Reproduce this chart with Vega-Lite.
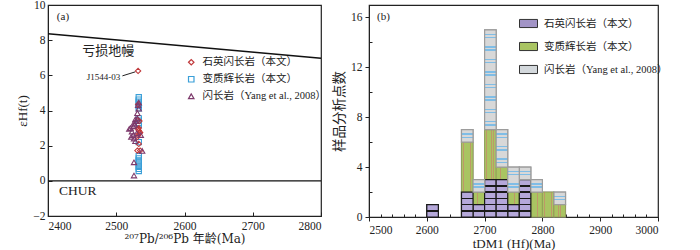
{
  "$schema": "https://vega.github.io/schema/vega-lite/v6.json",
  "background": "white",
  "padding": {"left": 16, "top": -2, "right": 0, "bottom": 0},
  "autosize": {"type": "pad"},
  "spacing": 48,
  "bounds": "flush",
  "config": {
    "view": {"stroke": "#222", "strokeWidth": 1.2},
    "axis": {
      "labelFont": "Liberation Serif", "labelFontSize": 11.5, "labelColor": "#222",
      "titleFont": "Liberation Serif, Noto Sans CJK SC", "titleFontSize": 13, "titleFontWeight": "normal", "titleColor": "#222",
      "domainColor": "#222", "tickColor": "#222", "grid": false, "format": "d"
    },
    "legend": {
      "labelFont": "Liberation Serif, Noto Sans CJK SC", "labelFontSize": 10.5, "labelColor": "#222",
      "padding": 0, "rowPadding": 6, "labelOffset": 6
    }
  },
  "resolve": {
    "scale": {"color": "independent", "shape": "independent", "stroke": "independent", "fill": "independent", "x": "independent", "y": "independent"},
    "legend": {"color": "independent", "shape": "independent", "stroke": "independent", "fill": "independent"}
  },
  "hconcat": [
    {
      "width": 273,
      "height": 211,
      "encoding": {
        "x": {"type": "quantitative", "scale": {"domain": [2400, 2800], "nice": false, "zero": false},
              "axis": {"values": [2400, 2500, 2600, 2700, 2800], "tickSize": -4, "labelPadding": 8, "title": "²⁰⁷Pb/²⁰⁶Pb 年龄(Ma)", "titleFont": "DejaVu Serif, Noto Sans CJK SC", "titleFontSize": 12, "titlePadding": 2}},
        "y": {"type": "quantitative", "scale": {"domain": [-2, 10], "nice": false, "zero": false},
              "axis": {"values": [-2, 0, 2, 4, 6, 8, 10], "tickSize": -4, "labelPadding": 7, "title": "εHf(t)", "titlePadding": 3}}
      },
      "layer": [
        {
          "data": {"values": [{"age": 2400, "eps": 8.37}, {"age": 2800, "eps": 6.97}]},
          "mark": {"type": "line", "color": "#111", "strokeWidth": 1.5},
          "encoding": {"x": {"field": "age"}, "y": {"field": "eps"}}
        },
        {
          "data": {"values": [{"eps": 0}]},
          "mark": {"type": "rule", "color": "#111", "strokeWidth": 1.3},
          "encoding": {"y": {"field": "eps"}}
        },
        {
          "data": {"values": [{"age": 2450, "eps": 7.4, "label": "亏损地幔"}]},
          "mark": {"type": "text", "align": "left", "baseline": "middle", "font": "Noto Sans CJK SC", "fontSize": 13, "color": "#222"},
          "encoding": {"x": {"field": "age"}, "y": {"field": "eps"}, "text": {"field": "label"}}
        },
        {
          "data": {"values": [{"age": 2416, "eps": -0.6, "label": "CHUR"}]},
          "mark": {"type": "text", "align": "left", "baseline": "middle", "font": "Liberation Serif", "fontSize": 13.5, "color": "#222"},
          "encoding": {"x": {"field": "age"}, "y": {"field": "eps"}, "text": {"field": "label"}}
        },
        {
          "data": {"values": [{"age": 2413, "eps": 9.3, "label": "(a)"}]},
          "mark": {"type": "text", "align": "left", "baseline": "middle", "font": "Liberation Serif", "fontSize": 11, "color": "#222"},
          "encoding": {"x": {"field": "age"}, "y": {"field": "eps"}, "text": {"field": "label"}}
        },
        {
          "data": {"values": [{"age": 2506, "eps": 5.9, "label": "J1544-03"}]},
          "mark": {"type": "text", "align": "right", "baseline": "middle", "font": "Liberation Serif", "fontSize": 9, "color": "#222"},
          "encoding": {"x": {"field": "age"}, "y": {"field": "eps"}, "text": {"field": "label"}}
        },
        {
          "data": {"values": [{"age": 2509, "eps": 5.97, "age2": 2528, "eps2": 6.2}]},
          "mark": {"type": "rule", "color": "#222", "strokeWidth": 1},
          "encoding": {"x": {"field": "age"}, "y": {"field": "eps"}, "x2": {"field": "age2"}, "y2": {"field": "eps2"}}
        },
        {
          "data": {"values": [
            {"rock": "变质辉长岩（本文）", "age": 2533, "eps": 4.75},
            {"rock": "变质辉长岩（本文）", "age": 2533, "eps": 4.62},
            {"rock": "变质辉长岩（本文）", "age": 2533, "eps": 4.5},
            {"rock": "变质辉长岩（本文）", "age": 2533, "eps": 4.38},
            {"rock": "变质辉长岩（本文）", "age": 2533, "eps": 4.25},
            {"rock": "变质辉长岩（本文）", "age": 2533, "eps": 4.12},
            {"rock": "变质辉长岩（本文）", "age": 2533, "eps": 3.55},
            {"rock": "变质辉长岩（本文）", "age": 2533, "eps": 3.42},
            {"rock": "变质辉长岩（本文）", "age": 2533, "eps": 3.3},
            {"rock": "变质辉长岩（本文）", "age": 2533, "eps": 3.18},
            {"rock": "变质辉长岩（本文）", "age": 2533, "eps": 2.2},
            {"rock": "变质辉长岩（本文）", "age": 2533, "eps": 1.4},
            {"rock": "变质辉长岩（本文）", "age": 2533, "eps": 1.28},
            {"rock": "变质辉长岩（本文）", "age": 2533, "eps": 1.16},
            {"rock": "变质辉长岩（本文）", "age": 2533, "eps": 1.04},
            {"rock": "变质辉长岩（本文）", "age": 2533, "eps": 0.92},
            {"rock": "变质辉长岩（本文）", "age": 2533, "eps": 0.8},
            {"rock": "变质辉长岩（本文）", "age": 2533, "eps": 0.68},
            {"rock": "变质辉长岩（本文）", "age": 2533, "eps": 0.56},
            {"rock": "石英闪长岩（本文）", "age": 2532, "eps": 6.25},
            {"rock": "石英闪长岩（本文）", "age": 2532, "eps": 4.35},
            {"rock": "石英闪长岩（本文）", "age": 2532, "eps": 3.45},
            {"rock": "石英闪长岩（本文）", "age": 2534, "eps": 3.4},
            {"rock": "石英闪长岩（本文）", "age": 2533, "eps": 3.0},
            {"rock": "石英闪长岩（本文）", "age": 2532, "eps": 2.95},
            {"rock": "石英闪长岩（本文）", "age": 2533, "eps": 2.85},
            {"rock": "石英闪长岩（本文）", "age": 2535, "eps": 2.75},
            {"rock": "石英闪长岩（本文）", "age": 2534, "eps": 2.7},
            {"rock": "石英闪长岩（本文）", "age": 2532, "eps": 2.6},
            {"rock": "石英闪长岩（本文）", "age": 2531, "eps": 2.5},
            {"rock": "石英闪长岩（本文）", "age": 2533, "eps": 2.1},
            {"rock": "石英闪长岩（本文）", "age": 2531, "eps": 1.72},
            {"rock": "石英闪长岩（本文）", "age": 2535, "eps": 1.72},
            {"rock": "闪长岩（Yang et al., 2008）", "age": 2533, "eps": 4.45},
            {"rock": "闪长岩（Yang et al., 2008）", "age": 2532, "eps": 4.3},
            {"rock": "闪长岩（Yang et al., 2008）", "age": 2533, "eps": 4.1},
            {"rock": "闪长岩（Yang et al., 2008）", "age": 2531, "eps": 3.85},
            {"rock": "闪长岩（Yang et al., 2008）", "age": 2531, "eps": 3.55},
            {"rock": "闪长岩（Yang et al., 2008）", "age": 2528, "eps": 3.5},
            {"rock": "闪长岩（Yang et al., 2008）", "age": 2529, "eps": 3.4},
            {"rock": "闪长岩（Yang et al., 2008）", "age": 2526, "eps": 3.3},
            {"rock": "闪长岩（Yang et al., 2008）", "age": 2527, "eps": 3.2},
            {"rock": "闪长岩（Yang et al., 2008）", "age": 2525, "eps": 3.1},
            {"rock": "闪长岩（Yang et al., 2008）", "age": 2521, "eps": 3.0},
            {"rock": "闪长岩（Yang et al., 2008）", "age": 2519, "eps": 2.95},
            {"rock": "闪长岩（Yang et al., 2008）", "age": 2523, "eps": 2.8},
            {"rock": "闪长岩（Yang et al., 2008）", "age": 2530, "eps": 2.7},
            {"rock": "闪长岩（Yang et al., 2008）", "age": 2525, "eps": 2.6},
            {"rock": "闪长岩（Yang et al., 2008）", "age": 2536, "eps": 2.6},
            {"rock": "闪长岩（Yang et al., 2008）", "age": 2522, "eps": 2.5},
            {"rock": "闪长岩（Yang et al., 2008）", "age": 2526, "eps": 2.4},
            {"rock": "闪长岩（Yang et al., 2008）", "age": 2528, "eps": 2.25},
            {"rock": "闪长岩（Yang et al., 2008）", "age": 2538, "eps": 1.7},
            {"rock": "闪长岩（Yang et al., 2008）", "age": 2526, "eps": 1.05},
            {"rock": "闪长岩（Yang et al., 2008）", "age": 2526, "eps": 0.3}
          ]},
          "mark": {"type": "point", "filled": false, "size": 28, "strokeWidth": 1.1, "opacity": 1},
          "encoding": {
            "x": {"field": "age"},
            "y": {"field": "eps"},
            "stroke": {"field": "rock", "type": "nominal",
              "scale": {"domain": ["石英闪长岩（本文）", "变质辉长岩（本文）", "闪长岩（Yang et al., 2008）"], "range": ["#c0393b", "#3a9fd8", "#7d3a6c"]},
              "legend": {"title": null, "orient": "none", "legendX": 138, "legendY": 52, "symbolSize": 30, "symbolStrokeWidth": 1.2}},
            "shape": {"field": "rock", "type": "nominal",
              "scale": {"domain": ["石英闪长岩（本文）", "变质辉长岩（本文）", "闪长岩（Yang et al., 2008）"], "range": ["diamond", "square", "triangle-up"]},
              "legend": {"title": null, "orient": "none", "legendX": 138, "legendY": 52, "symbolSize": 30, "symbolStrokeWidth": 1.2}}
          }
        }
      ]
    },
    {
      "width": 289,
      "height": 212,
      "encoding": {
        "x": {"type": "quantitative", "scale": {"domain": [2500, 3000], "nice": false, "zero": false},
              "axis": {"values": [2500, 2520, 2540, 2560, 2580, 2600, 2620, 2640, 2660, 2680, 2700, 2720, 2740, 2760, 2780, 2800, 2820, 2840, 2860, 2880, 2900, 2920, 2940, 2960, 2980, 3000],
                       "labelExpr": "datum.value % 100 === 0 ? datum.label : ''",
                       "tickSize": {"condition": {"test": "datum.value % 100 === 0", "value": 4}, "value": -3},
                       "labelPadding": 3, "title": "tDM1 (Hf)(Ma)", "titlePadding": 2}},
        "y": {"type": "quantitative", "scale": {"domain": [0, 17], "nice": false, "zero": false},
              "axis": {"values": [0, 2, 4, 6, 8, 10, 12, 14, 16],
                       "labelExpr": "datum.value % 4 === 0 ? datum.label : ''",
                       "tickSize": {"condition": {"test": "datum.value % 4 === 0", "value": 4}, "value": -3},
                       "labelPadding": 3, "title": "样品分析点数", "titleFont": "Noto Sans CJK SC", "titleFontSize": 13.5, "titlePadding": 4}}
      },
      "layer": [
        {
          "data": {"values": [
            {"bin_start": 2600, "bin_end": 2620, "type": "石英闪长岩（本文）", "ord": 1, "count": 1},
            {"bin_start": 2660, "bin_end": 2680, "type": "石英闪长岩（本文）", "ord": 1, "count": 2},
            {"bin_start": 2660, "bin_end": 2680, "type": "变质辉长岩（本文）", "ord": 2, "count": 4},
            {"bin_start": 2660, "bin_end": 2680, "type": "闪长岩（Yang et al., 2008）", "ord": 3, "count": 1},
            {"bin_start": 2680, "bin_end": 2700, "type": "石英闪长岩（本文）", "ord": 1, "count": 1},
            {"bin_start": 2680, "bin_end": 2700, "type": "变质辉长岩（本文）", "ord": 2, "count": 1},
            {"bin_start": 2680, "bin_end": 2700, "type": "闪长岩（Yang et al., 2008）", "ord": 3, "count": 1},
            {"bin_start": 2700, "bin_end": 2720, "type": "石英闪长岩（本文）", "ord": 1, "count": 3},
            {"bin_start": 2700, "bin_end": 2720, "type": "变质辉长岩（本文）", "ord": 2, "count": 4},
            {"bin_start": 2700, "bin_end": 2720, "type": "闪长岩（Yang et al., 2008）", "ord": 3, "count": 8},
            {"bin_start": 2720, "bin_end": 2740, "type": "石英闪长岩（本文）", "ord": 1, "count": 3},
            {"bin_start": 2720, "bin_end": 2740, "type": "变质辉长岩（本文）", "ord": 2, "count": 1},
            {"bin_start": 2720, "bin_end": 2740, "type": "闪长岩（Yang et al., 2008）", "ord": 3, "count": 3},
            {"bin_start": 2740, "bin_end": 2760, "type": "石英闪长岩（本文）", "ord": 1, "count": 1},
            {"bin_start": 2740, "bin_end": 2760, "type": "变质辉长岩（本文）", "ord": 2, "count": 1},
            {"bin_start": 2740, "bin_end": 2760, "type": "闪长岩（Yang et al., 2008）", "ord": 3, "count": 2},
            {"bin_start": 2760, "bin_end": 2780, "type": "石英闪长岩（本文）", "ord": 1, "count": 3},
            {"bin_start": 2760, "bin_end": 2780, "type": "闪长岩（Yang et al., 2008）", "ord": 3, "count": 1},
            {"bin_start": 2780, "bin_end": 2800, "type": "变质辉长岩（本文）", "ord": 2, "count": 2},
            {"bin_start": 2780, "bin_end": 2800, "type": "闪长岩（Yang et al., 2008）", "ord": 3, "count": 1},
            {"bin_start": 2800, "bin_end": 2820, "type": "变质辉长岩（本文）", "ord": 2, "count": 2},
            {"bin_start": 2820, "bin_end": 2840, "type": "变质辉长岩（本文）", "ord": 2, "count": 1},
            {"bin_start": 2820, "bin_end": 2840, "type": "闪长岩（Yang et al., 2008）", "ord": 3, "count": 1}
          ]},
          "transform": [{"stack": "count", "groupby": ["bin_start"], "sort": [{"field": "ord"}], "as": ["y0", "y1"]}],
          "encoding": {"x": {"field": "bin_start"}, "x2": {"field": "bin_end"}, "y": {"field": "y0"}, "y2": {"field": "y1"}},
          "layer": [
            {
              "mark": {"type": "bar", "strokeWidth": 1.2},
              "encoding": {
                "fill": {"field": "type", "type": "nominal",
                  "scale": {"domain": ["石英闪长岩（本文）", "变质辉长岩（本文）", "闪长岩（Yang et al., 2008）"], "range": ["#a294c6", "#a9c462", "#d3d8dc"]},
                  "legend": {"title": null, "orient": "none", "legendX": 150, "legendY": 9, "symbolType": "M-1,-0.45H1V0.45H-1Z", "symbolSize": 324, "symbolStrokeColor": "#333", "symbolStrokeWidth": 1, "rowPadding": 7}},
                "stroke": {"condition": {"test": "datum.ord === 1", "value": "#1a1a1a"}, "value": "#9c9c9c"}
              }
            },
            {
              "transform": [{"filter": "datum.ord === 2"}],
              "mark": {"type": "bar", "strokeWidth": 0.8, "stroke": "#8f9a55",
                "fill": {"gradient": "linear", "x1": 0, "y1": 0, "x2": 1, "y2": 0, "stops": [
                  {"offset": 0, "color": "#a9c462"}, {"offset": 0.16, "color": "#a9c462"}, {"offset": 0.16, "color": "#bf9868"}, {"offset": 0.2, "color": "#bf9868"},
                  {"offset": 0.2, "color": "#a9c462"}, {"offset": 0.36, "color": "#a9c462"}, {"offset": 0.36, "color": "#bf9868"}, {"offset": 0.4, "color": "#bf9868"},
                  {"offset": 0.4, "color": "#a9c462"}, {"offset": 0.56, "color": "#a9c462"}, {"offset": 0.56, "color": "#bf9868"}, {"offset": 0.6, "color": "#bf9868"},
                  {"offset": 0.6, "color": "#a9c462"}, {"offset": 0.76, "color": "#a9c462"}, {"offset": 0.76, "color": "#bf9868"}, {"offset": 0.8, "color": "#bf9868"},
                  {"offset": 0.8, "color": "#a9c462"}, {"offset": 0.96, "color": "#a9c462"}, {"offset": 0.96, "color": "#bf9868"}, {"offset": 1, "color": "#bf9868"}
                ]}}
            },
            {
              "transform": [{"filter": "datum.ord === 1 && datum.count === 1"}],
              "mark": {"type": "bar", "strokeWidth": 1.2, "stroke": "#1a1a1a",
                "fill": {"gradient": "linear", "x1": 0, "y1": 0, "x2": 0, "y2": 1, "stops": [
                  {"offset": 0, "color": "#b5a8da"}, {"offset": 0.44, "color": "#b5a8da"}, {"offset": 0.44, "color": "#1a1a1a"}, {"offset": 0.56, "color": "#1a1a1a"}, {"offset": 0.56, "color": "#b5a8da"}, {"offset": 1, "color": "#b5a8da"}
                ]}}
            },
            {
              "transform": [{"filter": "datum.ord === 1 && datum.count === 2"}],
              "mark": {"type": "bar", "strokeWidth": 1.2, "stroke": "#1a1a1a",
                "fill": {"gradient": "linear", "x1": 0, "y1": 0, "x2": 0, "y2": 1, "stops": [
                  {"offset": 0, "color": "#b5a8da"}, {"offset": 0.22, "color": "#b5a8da"}, {"offset": 0.22, "color": "#1a1a1a"}, {"offset": 0.28, "color": "#1a1a1a"}, {"offset": 0.28, "color": "#b5a8da"},
                  {"offset": 0.47, "color": "#b5a8da"}, {"offset": 0.47, "color": "#1a1a1a"}, {"offset": 0.53, "color": "#1a1a1a"}, {"offset": 0.53, "color": "#b5a8da"},
                  {"offset": 0.72, "color": "#b5a8da"}, {"offset": 0.72, "color": "#1a1a1a"}, {"offset": 0.78, "color": "#1a1a1a"}, {"offset": 0.78, "color": "#b5a8da"}, {"offset": 1, "color": "#b5a8da"}
                ]}}
            },
            {
              "transform": [{"filter": "datum.ord === 1 && datum.count === 3"}],
              "mark": {"type": "bar", "strokeWidth": 1.2, "stroke": "#1a1a1a",
                "fill": {"gradient": "linear", "x1": 0, "y1": 0, "x2": 0, "y2": 1, "stops": [
                  {"offset": 0, "color": "#b5a8da"}, {"offset": 0.147, "color": "#b5a8da"}, {"offset": 0.147, "color": "#1a1a1a"}, {"offset": 0.187, "color": "#1a1a1a"}, {"offset": 0.187, "color": "#b5a8da"},
                  {"offset": 0.313, "color": "#b5a8da"}, {"offset": 0.313, "color": "#1a1a1a"}, {"offset": 0.353, "color": "#1a1a1a"}, {"offset": 0.353, "color": "#b5a8da"},
                  {"offset": 0.48, "color": "#b5a8da"}, {"offset": 0.48, "color": "#1a1a1a"}, {"offset": 0.52, "color": "#1a1a1a"}, {"offset": 0.52, "color": "#b5a8da"},
                  {"offset": 0.647, "color": "#b5a8da"}, {"offset": 0.647, "color": "#1a1a1a"}, {"offset": 0.687, "color": "#1a1a1a"}, {"offset": 0.687, "color": "#b5a8da"},
                  {"offset": 0.813, "color": "#b5a8da"}, {"offset": 0.813, "color": "#1a1a1a"}, {"offset": 0.853, "color": "#1a1a1a"}, {"offset": 0.853, "color": "#b5a8da"}, {"offset": 1, "color": "#b5a8da"}
                ]}}
            },
            {
              "transform": [{"filter": "datum.ord === 3 && datum.count === 1"}],
              "mark": {"type": "bar", "strokeWidth": 1.2, "stroke": "#9c9c9c",
                "fill": {"gradient": "linear", "x1": 0, "y1": 0, "x2": 0, "y2": 1, "stops": [
                  {"offset": 0, "color": "#d8d8d8"}, {"offset": 0.3, "color": "#d8d8d8"}, {"offset": 0.3, "color": "#7fbde6"}, {"offset": 0.42, "color": "#7fbde6"}, {"offset": 0.42, "color": "#d8d8d8"},
                  {"offset": 0.55, "color": "#d8d8d8"}, {"offset": 0.55, "color": "#7fbde6"}, {"offset": 0.67, "color": "#7fbde6"}, {"offset": 0.67, "color": "#d8d8d8"}, {"offset": 1, "color": "#d8d8d8"}
                ]}}
            },
            {
              "transform": [{"filter": "datum.ord === 3 && datum.count === 2"}],
              "mark": {"type": "bar", "strokeWidth": 1.2, "stroke": "#9c9c9c",
                "fill": {"gradient": "linear", "x1": 0, "y1": 0, "x2": 0, "y2": 1, "stops": [
                  {"offset": 0, "color": "#d8d8d8"}, {"offset": 0.15, "color": "#d8d8d8"}, {"offset": 0.15, "color": "#7fbde6"}, {"offset": 0.21, "color": "#7fbde6"}, {"offset": 0.21, "color": "#d8d8d8"},
                  {"offset": 0.275, "color": "#d8d8d8"}, {"offset": 0.275, "color": "#7fbde6"}, {"offset": 0.335, "color": "#7fbde6"}, {"offset": 0.335, "color": "#d8d8d8"},
                  {"offset": 0.65, "color": "#d8d8d8"}, {"offset": 0.65, "color": "#7fbde6"}, {"offset": 0.71, "color": "#7fbde6"}, {"offset": 0.71, "color": "#d8d8d8"},
                  {"offset": 0.775, "color": "#d8d8d8"}, {"offset": 0.775, "color": "#7fbde6"}, {"offset": 0.835, "color": "#7fbde6"}, {"offset": 0.835, "color": "#d8d8d8"}, {"offset": 1, "color": "#d8d8d8"}
                ]}}
            },
            {
              "transform": [{"filter": "datum.ord === 3 && datum.count === 3"}],
              "mark": {"type": "bar", "strokeWidth": 1.2, "stroke": "#9c9c9c",
                "fill": {"gradient": "linear", "x1": 0, "y1": 0, "x2": 0, "y2": 1, "stops": [
                  {"offset": 0, "color": "#d8d8d8"}, {"offset": 0.1, "color": "#d8d8d8"}, {"offset": 0.1, "color": "#7fbde6"}, {"offset": 0.14, "color": "#7fbde6"}, {"offset": 0.14, "color": "#d8d8d8"},
                  {"offset": 0.183, "color": "#d8d8d8"}, {"offset": 0.183, "color": "#7fbde6"}, {"offset": 0.223, "color": "#7fbde6"}, {"offset": 0.223, "color": "#d8d8d8"},
                  {"offset": 0.433, "color": "#d8d8d8"}, {"offset": 0.433, "color": "#7fbde6"}, {"offset": 0.473, "color": "#7fbde6"}, {"offset": 0.473, "color": "#d8d8d8"},
                  {"offset": 0.517, "color": "#d8d8d8"}, {"offset": 0.517, "color": "#7fbde6"}, {"offset": 0.557, "color": "#7fbde6"}, {"offset": 0.557, "color": "#d8d8d8"},
                  {"offset": 0.767, "color": "#d8d8d8"}, {"offset": 0.767, "color": "#7fbde6"}, {"offset": 0.807, "color": "#7fbde6"}, {"offset": 0.807, "color": "#d8d8d8"},
                  {"offset": 0.85, "color": "#d8d8d8"}, {"offset": 0.85, "color": "#7fbde6"}, {"offset": 0.89, "color": "#7fbde6"}, {"offset": 0.89, "color": "#d8d8d8"}, {"offset": 1, "color": "#d8d8d8"}
                ]}}
            },
            {
              "transform": [{"filter": "datum.ord === 3 && datum.count === 8"}],
              "mark": {"type": "bar", "strokeWidth": 1.2, "stroke": "#9c9c9c",
                "fill": {"gradient": "linear", "x1": 0, "y1": 0, "x2": 0, "y2": 1, "stops": [
                  {"offset": 0, "color": "#d8d8d8"},
                  {"offset": 0.0375, "color": "#d8d8d8"}, {"offset": 0.0375, "color": "#7fbde6"}, {"offset": 0.0525, "color": "#7fbde6"}, {"offset": 0.0525, "color": "#d8d8d8"},
                  {"offset": 0.0688, "color": "#d8d8d8"}, {"offset": 0.0688, "color": "#7fbde6"}, {"offset": 0.0838, "color": "#7fbde6"}, {"offset": 0.0838, "color": "#d8d8d8"},
                  {"offset": 0.1625, "color": "#d8d8d8"}, {"offset": 0.1625, "color": "#7fbde6"}, {"offset": 0.1775, "color": "#7fbde6"}, {"offset": 0.1775, "color": "#d8d8d8"},
                  {"offset": 0.1938, "color": "#d8d8d8"}, {"offset": 0.1938, "color": "#7fbde6"}, {"offset": 0.2088, "color": "#7fbde6"}, {"offset": 0.2088, "color": "#d8d8d8"},
                  {"offset": 0.2875, "color": "#d8d8d8"}, {"offset": 0.2875, "color": "#7fbde6"}, {"offset": 0.3025, "color": "#7fbde6"}, {"offset": 0.3025, "color": "#d8d8d8"},
                  {"offset": 0.3188, "color": "#d8d8d8"}, {"offset": 0.3188, "color": "#7fbde6"}, {"offset": 0.3338, "color": "#7fbde6"}, {"offset": 0.3338, "color": "#d8d8d8"},
                  {"offset": 0.4125, "color": "#d8d8d8"}, {"offset": 0.4125, "color": "#7fbde6"}, {"offset": 0.4275, "color": "#7fbde6"}, {"offset": 0.4275, "color": "#d8d8d8"},
                  {"offset": 0.4438, "color": "#d8d8d8"}, {"offset": 0.4438, "color": "#7fbde6"}, {"offset": 0.4588, "color": "#7fbde6"}, {"offset": 0.4588, "color": "#d8d8d8"},
                  {"offset": 0.5375, "color": "#d8d8d8"}, {"offset": 0.5375, "color": "#7fbde6"}, {"offset": 0.5525, "color": "#7fbde6"}, {"offset": 0.5525, "color": "#d8d8d8"},
                  {"offset": 0.5688, "color": "#d8d8d8"}, {"offset": 0.5688, "color": "#7fbde6"}, {"offset": 0.5838, "color": "#7fbde6"}, {"offset": 0.5838, "color": "#d8d8d8"},
                  {"offset": 0.6625, "color": "#d8d8d8"}, {"offset": 0.6625, "color": "#7fbde6"}, {"offset": 0.6775, "color": "#7fbde6"}, {"offset": 0.6775, "color": "#d8d8d8"},
                  {"offset": 0.6938, "color": "#d8d8d8"}, {"offset": 0.6938, "color": "#7fbde6"}, {"offset": 0.7088, "color": "#7fbde6"}, {"offset": 0.7088, "color": "#d8d8d8"},
                  {"offset": 0.7875, "color": "#d8d8d8"}, {"offset": 0.7875, "color": "#7fbde6"}, {"offset": 0.8025, "color": "#7fbde6"}, {"offset": 0.8025, "color": "#d8d8d8"},
                  {"offset": 0.8188, "color": "#d8d8d8"}, {"offset": 0.8188, "color": "#7fbde6"}, {"offset": 0.8338, "color": "#7fbde6"}, {"offset": 0.8338, "color": "#d8d8d8"},
                  {"offset": 0.9125, "color": "#d8d8d8"}, {"offset": 0.9125, "color": "#7fbde6"}, {"offset": 0.9275, "color": "#7fbde6"}, {"offset": 0.9275, "color": "#d8d8d8"},
                  {"offset": 0.9438, "color": "#d8d8d8"}, {"offset": 0.9438, "color": "#7fbde6"}, {"offset": 0.9588, "color": "#7fbde6"}, {"offset": 0.9588, "color": "#d8d8d8"},
                  {"offset": 1, "color": "#d8d8d8"}
                ]}}
            }
          ]
        },
        {
          "data": {"values": [{"age": 2514, "n": 16, "label": "(b)"}]},
          "mark": {"type": "text", "align": "left", "baseline": "middle", "font": "Liberation Serif", "fontSize": 11, "color": "#222"},
          "encoding": {"x": {"field": "age"}, "y": {"field": "n"}, "text": {"field": "label"}}
        }
      ]
    }
  ]
}
